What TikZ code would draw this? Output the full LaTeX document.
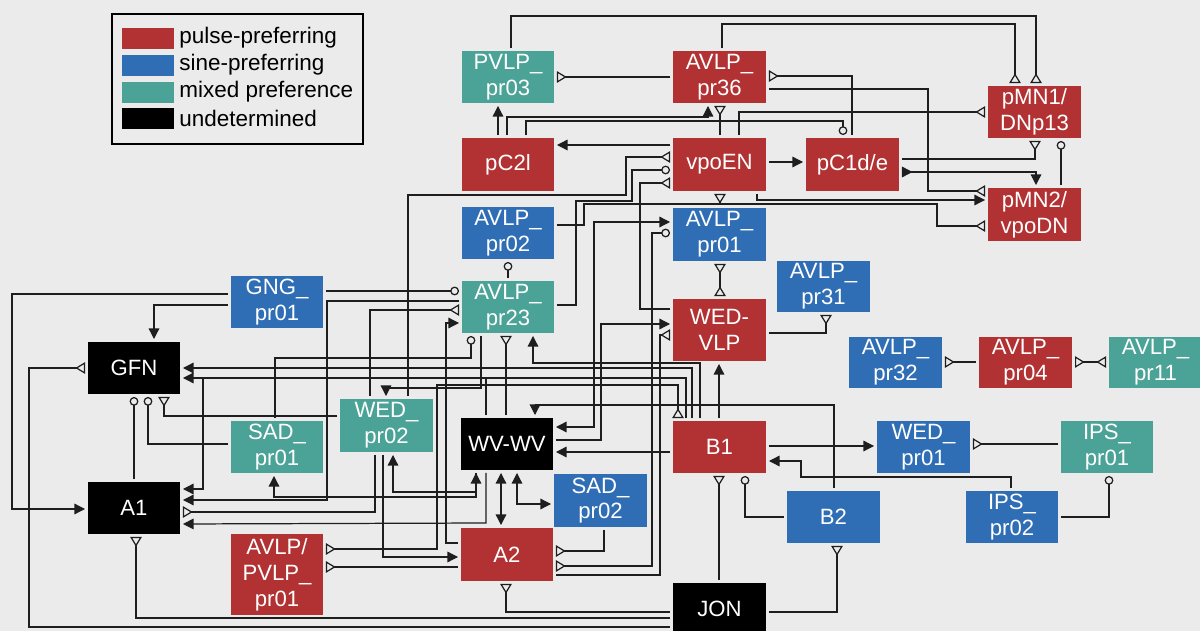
\documentclass[tikz,border=0pt]{standalone}
\usepackage{fontspec}
\setmainfont{Liberation Sans}
\usetikzlibrary{arrows.meta,calc}
\definecolor{bg}{HTML}{EBEBEB}
\definecolor{pulse}{HTML}{B23234}
\definecolor{sine}{HTML}{2F6EB5}
\definecolor{mixed}{HTML}{4BA397}
\definecolor{wire}{HTML}{1E1E1E}
\tikzset{
  box/.style={draw=none,text=white,inner sep=0pt,align=center,font=\fontsize{12.6}{14.7}\selectfont},
  w/.style={line width=0.7pt,draw=wire,shorten <=1.5pt,shorten >=1.5pt},
  fT/.tip={Triangle[length=6pt,width=6pt]},
  oT/.tip={Triangle[open,reversed,length=5.5pt,width=6.5pt,fill=bg]},
  cT/.tip={Circle[open,length=5pt,fill=bg]},
  rT/.tip={Triangle[reversed,length=6pt,width=6pt]},
  ex/.style={w,-fT},
  op/.style={w,-oT},
  ih/.style={w,-cT},
  exex/.style={w,fT-fT},
  opop/.style={w,oT-oT},
  opih/.style={w,oT-cT},
  rvex/.style={w,rT-fT},
  legtext/.style={anchor=west,inner sep=0pt,font=\fontsize{12.8}{14}\selectfont},
}
\newcommand\bx[7]{\node[box,fill=#6,minimum width={(#4-#2)*0.02cm},minimum height={(#5-#3)*0.02cm}] (#1) at ({(#2+#4)/2},{(#3+#5)/2}) {#7};}
\begin{document}
\begin{tikzpicture}[x=0.02cm,y=-0.02cm]
\fill[bg] (0,0) rectangle (1200,631);
\useasboundingbox (0,0) rectangle (1200,631);
% legend
\node[draw=black,line width=1.1pt,minimum width={251*0.02cm},minimum height={130*0.02cm},inner sep=0pt] (leg) at (237.5,79) {};
\fill[pulse] (122,28) rectangle (174,49);
\fill[sine] (122,55) rectangle (174,76);
\fill[mixed] (122,82) rectangle (174,103);
\fill[black] (122,108) rectangle (174,129);
\node[legtext] (l1) at (179,38) {pulse-preferring};
\node[legtext] (l2) at (179,65) {sine-preferring};
\node[legtext] (l3) at (179,92) {mixed preference};
\node[legtext] (l4) at (179,118) {undetermined};
% boxes
\bx{PV03}{462}{51}{554}{103}{mixed}{PVLP\_\\pr03}
\bx{AV36}{673}{51}{766}{103}{pulse}{AVLP\_\\pr36}
\bx{MN1}{988}{86}{1081}{138}{pulse}{pMN1/\\DNp13}
\bx{C2}{462}{138}{554}{191}{pulse}{pC2l}
\bx{EN}{673}{138}{766}{191}{pulse}{vpoEN}
\bx{C1}{806}{138}{899}{191}{pulse}{pC1d/e}
\bx{MN2}{988}{188}{1081}{241}{pulse}{pMN2/\\vpoDN}
\bx{AV02}{462}{207}{554}{259}{sine}{AVLP\_\\pr02}
\bx{AV01}{673}{208}{766}{261}{sine}{AVLP\_\\pr01}
\bx{AV23}{462}{281}{554}{333}{mixed}{AVLP\_\\pr23}
\bx{WVLP}{673}{299}{766}{361}{pulse}{WED-\\VLP}
\bx{AV31}{777}{261}{870}{312}{sine}{AVLP\_\\pr31}
\bx{AV32}{849}{337}{942}{388}{sine}{AVLP\_\\pr32}
\bx{AV04}{979}{337}{1072}{388}{pulse}{AVLP\_\\pr04}
\bx{AV11}{1109}{337}{1202}{388}{mixed}{AVLP\_\\pr11}
\bx{WD01}{877}{421}{970}{473}{sine}{WED\_\\pr01}
\bx{IP01}{1061}{421}{1153}{473}{mixed}{IPS\_\\pr01}
\bx{B2}{787}{491}{880}{543}{sine}{B2}
\bx{IP02}{966}{491}{1058}{543}{sine}{IPS\_\\pr02}
\bx{B1}{673}{421}{766}{473}{pulse}{B1}
\bx{JON}{673}{583}{766}{635}{black}{JON}
\bx{WVWV}{461}{418}{553}{470}{black}{WV-WV}
\bx{SD02}{554}{474}{647}{527}{sine}{SAD\_\\pr02}
\bx{A2}{461}{528}{553}{581}{pulse}{A2}
\bx{GFN}{88}{342}{180}{394}{black}{GFN}
\bx{GNG}{231}{276}{323}{328}{sine}{GNG\_\\pr01}
\bx{SD01}{231}{421}{323}{473}{mixed}{SAD\_\\pr01}
\bx{WD02}{340}{399}{433}{452}{mixed}{WED\_\\pr02}
\bx{A1}{88}{482}{180}{534}{black}{A1}
\bx{APV}{231}{534}{323}{615}{pulse}{AVLP/\\PVLP\_\\pr01}
% wires: top
\draw[op] (PV03.north -| 511,0) -- (511,16) -- (1036,16) -- (MN1.north -| 1036,0);
\draw[op] (AV36.north -| 722,0) -- (722,24) -- (1015,24) -- (MN1.north -| 1015,0);
\draw[op] (AV36.west |- 0,77) -- (PV03.east |- 0,77);
\draw[op] (C1.north -| 852,0) -- (852,76) -- (AV36.east |- 0,76);
\draw[op] (AV36.east |- 0,89) -- (928,89) -- (928,191) -- (MN2.west |- 0,191);
\draw[op] (EN.north -| 739,0) -- (739,112) -- (MN1.west |- 0,112);
\draw[ex] (C2.north -| 507,0) -- (507,117) -- (708,117) -- (AV36.south -| 708,0);
\draw[ih] (C2.north -| 526,0) -- (526,121) -- (843,121) -- (C1.north -| 843,0);
\draw[op] (EN.north -| 720,0) -- (AV36.south -| 720,0);
\draw[ex] (C2.north -| 498,0) -- (PV03.south -| 498,0);
\draw[ex] (EN.west |- 0,145) -- (C2.east |- 0,145);
\draw[ex] (EN.east |- 0,162) -- (C1.west |- 0,162);
\draw[op] (C1.east |- 0,159) -- (1035,159) -- (MN1.south -| 1035,0);
\draw[rvex] (C1.east |- 0,172) -- (1036,172) -- (MN2.north -| 1036,0);
\draw[ih] (MN2.north -| 1061,0) -- (MN1.south -| 1061,0);
\draw[ex] (EN.south -| 757,0) -- (757,200) -- (MN2.west |- 0,200);
\draw[op] (AV02.east |- 0,225) -- (584,225) -- (584,204) -- (937,204) -- (937,226) -- (MN2.west |- 0,226);
\draw[op] (WD02.north -| 408,0) -- (408,195) -- (626,195) -- (626,157) -- (EN.west |- 0,157);
\draw[ih] (AV23.east |- 0,305) -- (576,305) -- (576,201) -- (632,201) -- (632,170) -- (EN.west |- 0,170);
\draw[op] (WVLP.west |- 0,309) -- (640,309) -- (640,183) -- (EN.west |- 0,183);
\draw[op] (AV01.north -| 720,0) -- (EN.south -| 720,0);
\draw[opop] (AV01.south -| 720,0) -- (WVLP.north -| 720,0);
\draw[ih] (AV23.north -| 508,0) -- (AV02.south -| 508,0);
% middle
\draw[exex] (WVWV.east |- 0,427) -- (594,427) -- (594,222) -- (AV01.west |- 0,222);
\draw[opih] (A2.east |- 0,566) -- (652,566) -- (652,233) -- (AV01.west |- 0,233);
\draw[op] (A2.east |- 0,575) -- (660,575) -- (660,335) -- (WVLP.west |- 0,335);
\draw[ex] (WVWV.east |- 0,440) -- (601,440) -- (601,324) -- (WVLP.west |- 0,324);
\draw[op] (WVLP.east |- 0,333) -- (826,333) -- (AV31.south -| 826,0);
\draw[ex] (B1.north -| 719,0) -- (WVLP.south -| 719,0);
\draw[op] (AV04.west |- 0,362) -- (AV32.east |- 0,362);
\draw[opop] (AV04.east |- 0,362) -- (AV11.west |- 0,362);
\draw[ex] (B1.east |- 0,446) -- (WD01.west |- 0,446);
\draw[op] (IP01.west |- 0,444) -- (WD01.east |- 0,444);
\draw[ex] (IP02.north -| 1011,0) -- (1011,477) -- (801,477) -- (801,461) -- (B1.east |- 0,461);
\draw[ih] (IP02.east |- 0,517) -- (1109,517) -- (IP01.south -| 1109,0);
\draw[ih] (B2.west |- 0,517) -- (745,517) -- (B1.south -| 745,0);
\draw[op] (JON.north -| 719,0) -- (B1.south -| 719,0);
\draw[op] (JON.east |- 0,612) -- (837,612) -- (B2.south -| 837,0);
\draw[ex] (B2.north -| 834,0) -- (834,405) -- (535,405) -- (WVWV.north -| 535,0);
\draw[ex] (B1.west |- 0,452) -- (WVWV.east |- 0,452);
\draw[exex] (WVWV.south -| 501,0) -- (A2.north -| 501,0);
\draw[exex] (WVWV.south -| 517,0) -- (517,504) -- (SD02.west |- 0,504);
\draw[op] (SD02.south -| 604,0) -- (604,551) -- (A2.east |- 0,551);
% bottom
\draw[op] (JON.west |- 0,612) -- (506,612) -- (A2.south -| 506,0);
\draw[op] (JON.west |- 0,618) -- (136,618) -- (A1.south -| 136,0);
\draw[op] (JON.west |- 0,627) -- (29,627) -- (29,368) -- (GFN.west |- 0,368);
% left
\draw[ex] (GNG.west |- 0,294) -- (12,294) -- (12,509) -- (A1.west |- 0,509);
\draw[ex] (GNG.west |- 0,305) -- (154,305) -- (GFN.north -| 154,0);
\draw[ih] (GNG.east |- 0,291) -- (AV23.west |- 0,291);
\draw[ex] (AV23.west |- 0,301) -- (327,301) -- (327,500) -- (A1.east |- 0,500);
\draw[op] (WD02.north -| 370,0) -- (370,310) -- (AV23.west |- 0,310);
\draw[ex] (A2.west |- 0,543) -- (446,543) -- (446,323) -- (AV23.west |- 0,323);
\draw[ih] (SD01.north -| 275,0) -- (275,358) -- (471,358) -- (AV23.south -| 471,0);
\draw[ex] (AV23.south -| 481,0) -- (481,388) -- (386,388) -- (WD02.north -| 386,0);
\draw[op] (WVWV.north -| 506,0) -- (AV23.south -| 506,0);
\draw[ex] (B1.north -| 700,0) -- (700,363) -- (533,363) -- (AV23.south -| 533,0);
\draw[ex] (B1.north -| 692,0) -- (692,368) -- (GFN.east |- 0,368);
\draw[ex] (B1.north -| 686,0) -- (686,378) -- (GFN.east |- 0,378);
\coordinate (j1) at (486,378);
\coordinate (j2) at (203,378);
\draw[w,shorten >=0pt] (WVWV.north -| 486,0) -- (j1);
\draw[ex,shorten <=0pt] (j2) -- (203,489) -- (A1.east |- 0,489);
\draw[op] (WD02.south -| 375,0) -- (375,512) -- (A1.east |- 0,512);
\draw[ex] (WD02.south -| 383,0) -- (383,557) -- (A2.west |- 0,557);
\draw[exex] (WD02.south -| 393,0) -- (393,492) -- (476,492) -- (WVWV.south -| 476,0);
\draw[ex] (WVWV.south -| 476,0) -- (476,497) -- (274,497) -- (SD01.south -| 274,0);
\draw[ex] (WVWV.south -| 486,0) -- (486,523) -- (A1.east |- 0,524);
\draw[opop] (APV.east |- 0,549) -- (437,549) -- (437,385) -- (678,385) -- (B1.north -| 678,0);
\draw[op] (A2.west |- 0,567) -- (APV.east |- 0,567);
\draw[ih] (A1.north -| 134,0) -- (GFN.south -| 134,0);
\draw[ih] (SD01.west |- 0,444) -- (148,444) -- (GFN.south -| 148,0);
\draw[op] (WD02.west |- 0,416) -- (164,416) -- (GFN.south -| 164,0);
\end{tikzpicture}
\end{document}
